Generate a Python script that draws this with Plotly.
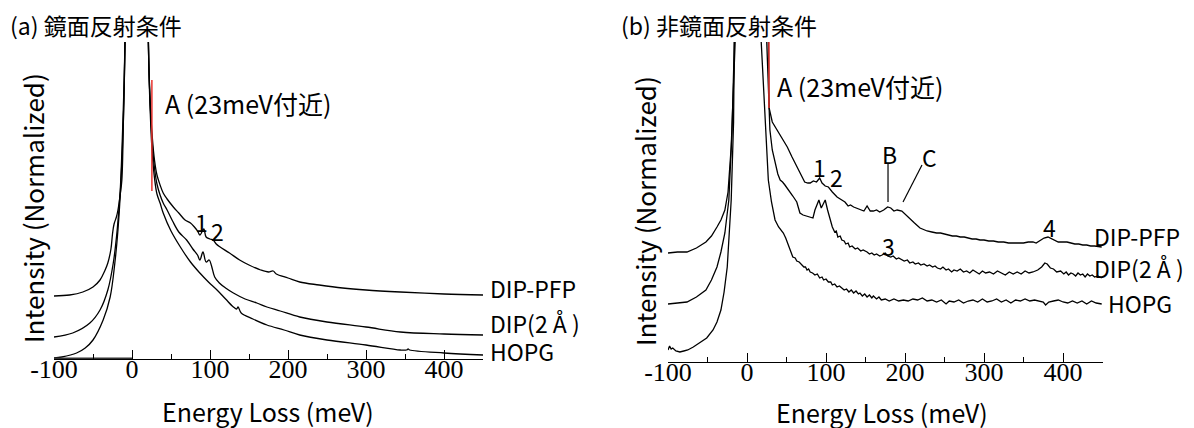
import plotly.graph_objects as go

W, H = 1194, 428
OX, OY = 8, 8  # page body margin offset

# ---------------- data: panel (a) specular ----------------
a_pfp_E = [-100, -80, -63, -50, -41, -35, -31, -27, -25, -23, -20, -18, -15, -13, -11, -9, 6,
           21, 23, 26, 29, 32, 36, 40, 45, 53, 60, 68, 75, 80, 84, 87, 92, 95, 100, 104, 108,
           113, 125, 138, 150, 165, 175, 181, 185, 200, 215, 240, 270, 300, 344, 400, 450]
a_pfp_I = [63, 64, 67, 72, 79, 88, 96, 110, 125, 135, 142, 149, 165, 179, 240, 317, 2000,
           317, 262, 222, 198, 184, 174, 166, 160, 152, 146, 139, 136, 132, 128, 124, 130, 122, 120, 119, 115,
           112, 106, 99, 94, 89, 87, 88, 85, 81, 77, 74, 71, 69, 67, 65, 64]

a_dip_E = [-100, -76, -54, -41, -31, -24, -19, -15, -12, -9, 6,
           21, 23, 26, 29, 32, 36, 40, 45, 52, 60, 70, 78, 84, 87, 91, 95, 99, 102, 106,
           112, 120, 130, 145, 160, 173, 190, 215, 250, 300, 344, 400, 450]
a_dip_I = [22, 26, 36, 49, 69, 96, 129, 170, 230, 317, 2000,
           317, 262, 215, 190, 175, 164, 156, 149, 138, 127, 119, 110, 104, 99, 107, 97, 99, 93, 82,
           76, 71, 66, 60, 56, 52, 48, 42, 37, 32, 27, 25, 24]

a_hopg_E = [-100, -90, -71, -60, -50, -37, -28, -22, -18, -14, -11, -9, 6,
            21, 23, 26, 29, 32, 36, 40, 50, 62, 75, 87, 98, 109, 120, 130, 134, 136, 140,
            155, 173, 195, 215, 250, 300, 344, 352, 354, 356, 400, 450]
a_hopg_I = [1, 2, 6, 11, 19, 39, 62, 96, 129, 180, 240, 317, 2000,
            317, 255, 205, 180, 165, 156, 146, 128, 112, 97, 86, 77, 69, 60, 52, 50, 52, 46,
            40, 34, 29, 24, 19, 14, 9, 9, 10, 9, 6, 4]

# thick baseline segment under panel (a)
a_base_E = [-100, 0]
a_base_I = [0, 0]

# ---------------- data: panel (b) off-specular ----------------
b_pfp_E = [-100, -88, -76, -64, -52, -45, -38, -33, -28, -24, -20, -17, -15, 5,
           27, 28, 32, 38, 44, 51, 57, 63, 68, 73, 77, 80, 84, 88, 92, 95, 99, 103, 108, 114,
           120, 124, 128, 131, 135, 139, 143, 148, 152, 156, 160, 164, 168, 173, 178, 182, 186, 190,
           196, 201, 206, 212, 219, 228, 234, 240, 245, 250, 255, 260, 265, 270, 275, 280, 285, 290,
           295, 300, 306, 312, 318, 325, 331, 337, 343, 350, 356, 362, 366, 370, 376, 381, 386, 390,
           394, 400, 405, 410, 415, 420, 425, 430, 435, 440, 449]
b_pfp_I = [109, 110, 110, 114, 120, 126, 135, 142, 152, 170, 215, 270, 320, 2000,
           320, 254, 240, 232, 224, 215, 205, 195, 187, 180, 179, 179, 181, 180, 184, 179, 176, 175, 170, 165,
           162, 160, 156, 157, 155, 154, 153, 151, 156, 151, 151, 152, 150, 152, 155, 154, 151, 152,
           151, 147, 144, 139, 134, 131, 130, 129, 129, 128, 127, 126, 126, 125, 125, 124, 123, 123,
           122, 122, 121, 121, 120, 120, 119, 119, 119, 119, 120, 120, 119, 121, 124, 125, 123, 121,
           120, 120, 120, 119, 118, 118, 117, 117, 116, 116, 115]

b_dip_E = [-100, -88, -76, -64, -52, -45, -38, -33, -28, -23, -19, -16, 5,
           25, 27, 29, 32, 35.5, 39, 42, 45, 48, 51, 54, 58, 63, 67, 71, 76, 80, 83.5, 86, 91, 94,
           96, 99, 102, 105, 108, 111, 113, 115, 118, 120, 123, 125, 128, 130, 133, 137, 140, 144,
           147, 152, 155, 158, 161, 164, 168, 171, 175, 178, 182, 185, 189, 192, 196, 199, 203, 206,
           210, 213, 217, 220, 224, 228, 231, 235, 238, 241, 245, 248, 252, 255, 259, 262, 266, 270,
           274, 278, 282, 286, 290, 294, 298, 302, 307, 312, 317, 322, 327, 332, 337, 342, 347, 352,
           357, 362, 368, 373, 377, 380, 384, 388, 392, 397, 401, 404, 407, 410, 413, 416, 419, 422,
           425, 428, 431, 434, 437, 440, 444, 449]
b_dip_I = [58, 59, 60, 65, 72, 82, 95, 110, 129, 162, 230, 320, 2000,
           320, 270, 232, 212, 199, 188, 182, 180, 177, 174, 170, 166, 160, 149, 147, 146, 145, 144, 152, 162, 154,
           158, 162, 152, 142, 135, 130, 131, 125, 126, 122, 121, 118, 119, 115, 116, 113, 114, 111,
           112, 110, 108, 109, 107, 108, 106, 107, 109, 106, 105, 106, 103, 104, 102, 101, 102, 99,
           100, 98, 99, 97, 98, 96, 97, 95, 96, 94, 93, 95, 92, 93, 90, 92, 91, 93,
           90, 91, 89, 92, 90, 88, 91, 89, 90, 88, 91, 89, 87, 90, 88, 90, 88, 91,
           89, 90, 92, 95, 99, 98, 94, 93, 90, 91, 88, 90, 87, 89, 88, 86, 89, 87,
           88, 85, 88, 86, 87, 85, 86, 84]

b_hopg_E = [-100, -98, -96, -94, -90, -85, -80, -75, -68, -60, -51, -43, -38, -33, -29, -25, -20,
            -17, -15, 4,
            18, 20, 23, 27, 31, 35.5, 40, 43, 46, 49, 52, 55, 58, 61, 63, 66, 68, 70, 72, 74, 76, 78,
            80, 83, 86, 89, 92, 95, 97, 100, 103, 106, 108, 111, 114, 117, 120, 123, 126, 129, 132,
            135, 138, 141, 143, 146, 149, 152, 155, 158, 160, 164, 167, 170, 175, 180, 186, 192, 198,
            204, 210, 216, 222, 228, 234, 240, 246, 252, 256, 262, 268, 274, 280, 286, 292, 298, 304,
            310, 316, 322, 328, 334, 340, 346, 352, 358, 364, 370, 375, 378, 382, 388, 394, 400,
            406, 412, 418, 424, 430, 436, 442, 449]
b_hopg_I = [12, 16, 13, 14, 11, 10, 11, 12, 15, 19, 24, 32, 40, 52, 70, 95, 162,
            240, 320, 2000,
            320, 290, 232, 182, 160, 142, 135, 132, 129, 124, 117, 112, 105, 104, 101, 100, 98, 97, 95, 95, 92, 93,
            90, 89, 87, 88, 84, 85, 82, 83, 80, 80, 77, 78, 75, 76, 74, 72, 73, 70, 72,
            69, 71, 68, 69, 66, 68, 65, 67, 64, 66, 63, 65, 62, 63, 61, 63, 61, 62,
            61, 63, 62, 64, 61, 62, 60, 62, 58, 61, 60, 62, 59, 61, 62, 60, 63, 60,
            61, 63, 60, 62, 59, 62, 61, 63, 61, 62, 61, 60, 57, 60, 61, 62, 60,
            59, 61, 59, 61, 58, 61, 59, 58]

# red markers "A"
a_red_E = [25.5, 25.5]
a_red_I = [168, 279]
b_red_E = [27.8, 27.8]
b_red_I = [254, 330]
# B / C leader lines (panel b)
b_B_E = [178.5, 178.5]
b_B_I = [160, 199]
b_C_E = [197.5, 221.5]
b_C_I = [160, 197]

series_names = ["DIP-PFP", "DIP(2 Å )", "HOPG"]
tick_vals = [-100, 0, 100, 200, 300, 400]
tick_text = ["-100", "0", "100", "200", "300", "400"]

SANS = "Noto Sans CJK JP"
SERIF = "Liberation Serif"

fig = go.Figure()

def add_curve(E, I, xa, ya, color="black", width=1.3, shape="linear"):
    fig.add_trace(go.Scatter(x=E, y=I, mode="lines", xaxis=xa, yaxis=ya,
                             line=dict(color=color, width=width, shape=shape),
                             showlegend=False, hoverinfo="skip"))

for E, I in [(a_pfp_E, a_pfp_I), (a_dip_E, a_dip_I), (a_hopg_E, a_hopg_I)]:
    add_curve(E, I, "x", "y", shape="spline")
for E, I in [(b_pfp_E, b_pfp_I), (b_dip_E, b_dip_I), (b_hopg_E, b_hopg_I)]:
    add_curve(E, I, "x2", "y2")
add_curve(a_base_E, a_base_I, "x", "y", color="#333333", width=3)
add_curve(a_red_E, a_red_I, "x", "y", color="#e8332f", width=1.5)
add_curve(b_red_E, b_red_I, "x2", "y2", color="#e8332f", width=1.5)
add_curve(b_B_E, b_B_I, "x2", "y2", width=1.2)
add_curve(b_C_E, b_C_I, "x2", "y2", width=1.2)

def px_x(x):
    return (x - OX) / W

def px_y(y):
    return 1 - (y - OY) / H

def xaxis_cfg(domain):
    return dict(domain=domain, range=[-100, 450], showgrid=False, zeroline=False,
                showline=True, linecolor="black", linewidth=1.2,
                ticks="inside", ticklen=9, tickwidth=1.2, tickcolor="black",
                tickvals=tick_vals, ticktext=tick_text, ticklabelstandoff=-13,
                tickfont=dict(family=SERIF, size=26, color="black"),
                minor=dict(dtick=50, tick0=-100, ticks="inside", ticklen=5,
                           tickwidth=1.2, tickcolor="black"),
                automargin=False, fixedrange=True)

def yaxis_cfg(domain, top, anchor):
    return dict(domain=domain, range=[0, top], visible=False, showgrid=False,
                zeroline=False, anchor=anchor, automargin=False, fixedrange=True)

fig.update_layout(
    width=W, height=H, autosize=False,
    margin=dict(l=0, r=0, t=0, b=0, pad=0, autoexpand=False),
    paper_bgcolor="white", plot_bgcolor="white",
    xaxis=dict(xaxis_cfg([px_x(54), px_x(483)]), anchor="y"),
    yaxis=yaxis_cfg([px_y(359), px_y(42)], 317, "x"),
    xaxis2=dict(xaxis_cfg([px_x(668), px_x(1102.5)]), anchor="y2"),
    yaxis2=yaxis_cfg([px_y(362), px_y(42)], 320, "x2"),
)

def ann_px(text, x, y, size, xanchor="center", angle=0, family=SANS):
    fig.add_annotation(text=text, x=px_x(x), y=px_y(y), xref="paper", yref="paper",
                       xanchor=xanchor, yanchor="middle", showarrow=False, textangle=angle,
                       font=dict(family=family, size=size, color="black"))

def ann_data(text, E, I, xa, ya, size=23, xanchor="center"):
    fig.add_annotation(text=text, x=E, y=I, xref=xa, yref=ya, xanchor=xanchor,
                       yanchor="middle", showarrow=False,
                       font=dict(family=SANS, size=size, color="black"))

# titles
ann_px("(a) 鏡面反射条件", 8, 25, 23, xanchor="left")
ann_px("(b) 非鏡面反射条件", 619, 25, 23, xanchor="left")
# axis titles
ann_px("Energy Loss (meV)", 268, 411, 25)
ann_px("Energy Loss (meV)", 882, 412, 25)
ann_px("Intensity (Normalized)", 32, 208, 26, angle=-90)
ann_px("Intensity (Normalized)", 644, 211, 26, angle=-90)
# series labels
for name, y in zip(series_names, [288, 323, 351]):
    ann_px(name, 488, y, 23, xanchor="left")
for name, x, y in zip(series_names, [1092, 1092, 1106], [236, 268, 303]):
    ann_px(name, x, y, 23, xanchor="left")

# peak labels
ann_data("A (23meV付近)", 39.7, 256, "x", "y", size=25, xanchor="left")
ann_data("A (23meV付近)", 35.4, 276, "x2", "y2", size=25, xanchor="left")
ann_data("1", 88.5, 137, "x", "y")
ann_data("2", 110, 128, "x", "y")
ann_data("1", 92.4, 195, "x2", "y2")
ann_data("2", 112.7, 185, "x2", "y2")
ann_data("B", 181, 208, "x2", "y2")
ann_data("C", 231.6, 205, "x2", "y2")
ann_data("3", 179.7, 116, "x2", "y2")
ann_data("4", 383.5, 135, "x2", "y2")

fig.write_html("out.html")
